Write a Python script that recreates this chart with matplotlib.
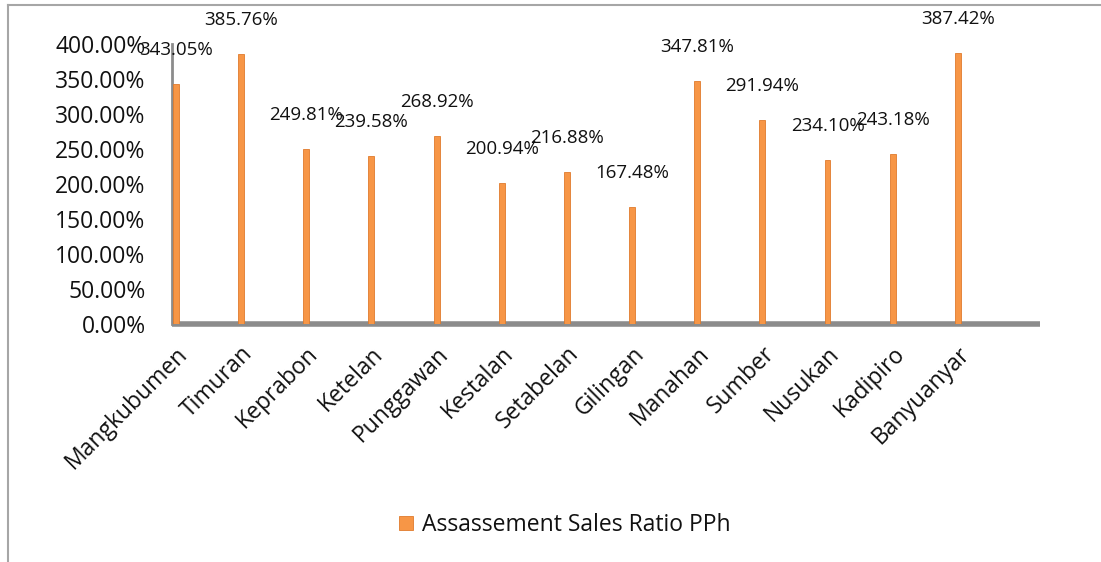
import matplotlib.pyplot as plt
from matplotlib.lines import Line2D
from matplotlib.ticker import FuncFormatter

kelurahan = ['Mangkubumen', 'Timuran', 'Keprabon', 'Ketelan', 'Punggawan', 'Kestalan',
             'Setabelan', 'Gilingan', 'Manahan', 'Sumber', 'Nusukan', 'Kadipiro', 'Banyuanyar']
asr_pph = [343.05, 385.76, 249.81, 239.58, 268.92, 200.94,
           216.88, 167.48, 347.81, 291.94, 234.10, 243.18, 387.42]
series_name = 'Assassement Sales Ratio PPh'
y_ticks = [0, 50, 100, 150, 200, 250, 300, 350, 400]

plt.rcParams['font.family'] = ['Open Sans', 'DejaVu Sans']

fig = plt.figure(figsize=(11.01, 5.62), dpi=100)
ax = fig.add_axes([172/1101, 1 - 324/562, 868/1101, 280/562])

x = list(range(len(kelurahan)))
bars = ax.bar(x, asr_pph, width=0.09, color='#f79646', edgecolor='#e07b2c',
              linewidth=0.6, label=series_name, zorder=3)

for xi, v in zip(x, asr_pph):
    ax.annotate('%.2f%%' % v, (xi, v), xytext=(0, 18), textcoords='offset points',
                ha='center', va='bottom', fontsize=13.5, color='#111111')

ax.set_xlim(-0.06, 13.26)
ax.set_ylim(0, 400)
ax.set_yticks(y_ticks)
ax.yaxis.set_major_formatter(FuncFormatter(lambda v, p: '%.2f%%' % v))
ax.tick_params(axis='y', length=0, pad=19, labelsize=16.5, labelcolor='#111111')
ax.set_xticks(x)
ax.set_xticklabels(kelurahan, rotation=45, ha='right', rotation_mode='anchor',
                   fontsize=16.5, color='#111111')
ax.tick_params(axis='x', length=0, pad=13)

for s in ['top', 'right']:
    ax.spines[s].set_visible(False)
ax.spines['left'].set_color('#8c8c8c')
ax.spines['left'].set_linewidth(2)
ax.spines['bottom'].set_color('#8c8c8c')
ax.spines['bottom'].set_linewidth(4)
ax.spines['bottom'].set_capstyle('butt')

fig.legend(handles=[bars], labels=[series_name], loc='center',
           bbox_to_anchor=(565/1101, 1 - 525/562), frameon=False, fontsize=16.5,
           handlelength=0.6, handleheight=0.6, handletextpad=0.4, labelcolor='#111111')

# chart area border (only top and left visible in the crop)
fig.add_artist(Line2D([8/1101, 1], [1 - 5/562, 1 - 5/562], color='#a6a6a6', lw=1.5,
                      transform=fig.transFigure))
fig.add_artist(Line2D([8/1101, 8/1101], [0, 1 - 5/562], color='#a6a6a6', lw=1.5,
                      transform=fig.transFigure))

fig.savefig('out.png', dpi=100)
